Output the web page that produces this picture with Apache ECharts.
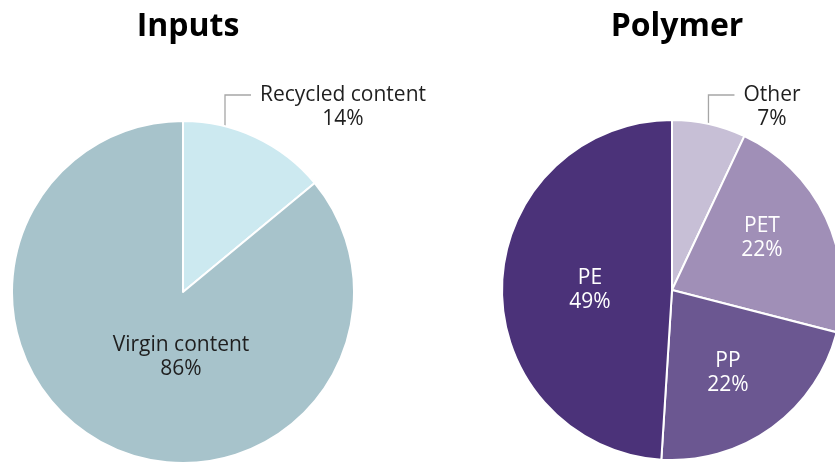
<!DOCTYPE html>
<html>
<head>
<meta charset="utf-8">
<script src="https://cdn.jsdelivr.net/npm/echarts@6/dist/echarts.min.js"></script>
<style>
  html, body { margin: 0; padding: 0; background: #fff; }
  #chart { width: 835px; height: 464px; }
</style>
</head>
<body>
<div id="chart"></div>
<script>
// Share of packaging material by input source and by polymer type (%)
const inputNames = ['Recycled content', 'Virgin content'];
const inputValues = [14, 86];
const inputColors = ['#cce9f0', '#a7c3cb'];

const polymerNames = ['Other', 'PET', 'PP', 'PE'];
const polymerValues = [7, 22, 22, 49];
const polymerColors = ['#c7bfd6', '#a08fb7', '#6b5791', '#4b3279'];

const FONT = '"Open Sans", "Noto Sans", sans-serif';

// Pie geometry (px)
const pies = [
  { center: [183, 292], radius: 171 },
  { center: [672, 290], radius: 170 }
];

// Label placement per slice: inside labels sit at an offset from the pie centre,
// outside labels get an elbow leader line.
const inputLabelPlacement = {
  'Recycled content': { outside: true, dx: 160, dy: -185 },
  'Virgin content': { dx: -2, dy: 65, color: '#1f1f1f' }
};
const polymerLabelPlacement = {
  'Other': { outside: true, dx: 100, dy: -183 },
  'PET': { dx: 90, dy: -52, color: '#ffffff' },
  'PP': { dx: 56, dy: 83, color: '#ffffff' },
  'PE': { dx: -82, dy: 0, color: '#ffffff' }
};

function buildData(names, values, colors, placement) {
  return names.map(function (name, i) {
    const p = placement[name];
    const item = {
      name: name,
      value: values[i],
      itemStyle: { color: colors[i] }
    };
    if (p.outside) {
      item.label = { position: 'outside', color: '#1f1f1f' };
      item.labelLine = { show: true };
    } else {
      item.label = { position: 'center', offset: [p.dx, p.dy], color: p.color };
      item.labelLine = { show: false };
    }
    return item;
  });
}

function makeLabelLayout(names, placement, geo) {
  return function (params) {
    const p = placement[names[params.dataIndex]];
    if (!p || !p.outside) return {};
    const cx = geo.center[0], cy = geo.center[1], r = geo.radius;
    const ax = cx + p.dx, ay = cy + p.dy;
    const textLeft = ax - params.labelRect.width / 2;
    const lineY = ay - 12;
    const vx = textLeft - 35;
    const hx = textLeft - 9;
    const edgeY = cy - Math.sqrt(r * r - (vx - cx) * (vx - cx));
    return {
      x: ax,
      y: ay,
      align: 'center',
      verticalAlign: 'middle',
      labelLinePoints: [[vx, edgeY], [vx, lineY], [hx, lineY]]
    };
  };
}

function pieSeries(names, values, colors, placement, geo) {
  return {
    type: 'pie',
    center: geo.center,
    radius: geo.radius,
    startAngle: 90,
    clockwise: true,
    animation: false,
    silent: true,
    avoidLabelOverlap: false,
    itemStyle: { borderColor: '#ffffff', borderWidth: 2 },
    label: {
      show: true,
      fontFamily: FONT,
      fontSize: 21,
      lineHeight: 24,
      align: 'center',
      formatter: function (d) { return d.name + '\n' + d.value + '%'; }
    },
    labelLine: {
      lineStyle: { color: '#a6a6a6', width: 1.3 }
    },
    labelLayout: makeLabelLayout(names, placement, geo),
    data: buildData(names, values, colors, placement)
  };
}

const chart = echarts.init(document.getElementById('chart'), null, { renderer: 'canvas' });
chart.setOption({
  backgroundColor: '#ffffff',
  title: [
    {
      text: 'Inputs', left: 183, top: 6, textAlign: 'center',
      textStyle: { fontFamily: FONT, fontWeight: 'bold', fontSize: 32, color: '#000' }
    },
    {
      text: 'Polymer', left: 672, top: 6, textAlign: 'center',
      textStyle: { fontFamily: FONT, fontWeight: 'bold', fontSize: 32, color: '#000' }
    }
  ],
  series: [
    pieSeries(inputNames, inputValues, inputColors, inputLabelPlacement, pies[0]),
    pieSeries(polymerNames, polymerValues, polymerColors, polymerLabelPlacement, pies[1])
  ]
});
</script>
</body>
</html>
